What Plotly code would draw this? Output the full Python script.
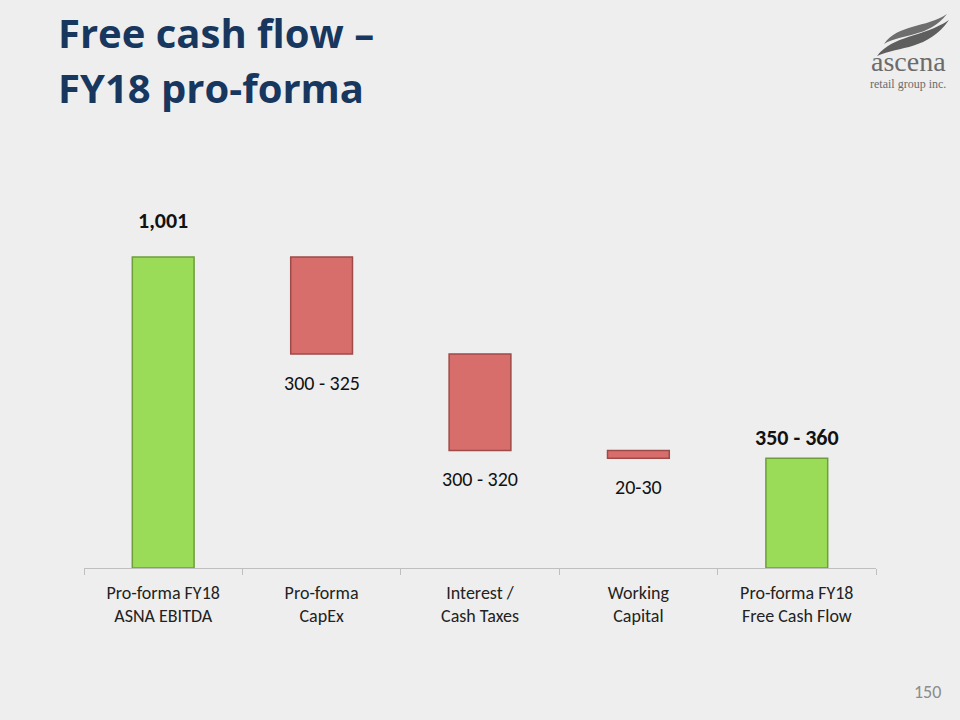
import plotly.graph_objects as go

# ---- data ----
categories = ["Pro-forma FY18<br>ASNA EBITDA", "Pro-forma<br>CapEx", "Interest /<br>Cash Taxes",
              "Working<br>Capital", "Pro-forma FY18<br>Free Cash Flow"]
measures = ["absolute", "relative", "relative", "relative", "total"]
values = [1001, -312.5, -310, -25, 0]
value_labels = ["1,001", "300 - 325", "300 - 320", "20-30", "350 - 360"]
label_bold = [True, False, False, False, True]

FONT = "Carlito, Lato, Liberation Sans, sans-serif"
TITLE_FONT = "Open Sans, Lato, sans-serif"
BG = "#EEEEEE"
GREEN = "#9ADC57"
GREEN_EDGE = "#6E9E3A"
RED = "#D86E6C"
RED_EDGE = "#9E4A48"

W, H = 960, 720
ML, MR, MT, MB = 84, 84, 160, 152
PW, PH = W - ML - MR, H - MT - MB


def px(x):
    return (x - ML) / PW


def py(y):
    return (H - MB - y) / PH


fig = go.Figure()
fig.add_trace(go.Waterfall(
    x=categories, y=values, measure=measures,
    increasing=dict(marker=dict(color=GREEN, line=dict(color=GREEN_EDGE, width=1.5))),
    decreasing=dict(marker=dict(color=RED, line=dict(color=RED_EDGE, width=1.5))),
    totals=dict(marker=dict(color=GREEN, line=dict(color=GREEN_EDGE, width=1.5))),
    connector=dict(visible=False),
    hoverinfo="skip",
))

# running totals for label placement
running = 0
tops, bottoms = [], []
for m, v in zip(measures, values):
    if m == "absolute":
        lo, hi = 0, v
        running = v
    elif m == "relative":
        new = running + v
        lo, hi = min(running, new), max(running, new)
        running = new
    else:
        lo, hi = 0, running
    tops.append(hi)
    bottoms.append(lo)

for i, (cat, lab) in enumerate(zip(categories, value_labels)):
    if label_bold[i]:
        fig.add_annotation(x=cat, y=tops[i], xref="x", yref="y", text="<b>" + lab + "</b>",
                           showarrow=False, yanchor="bottom", yshift=21 if i == 0 else 5,
                           font=dict(family=FONT, size=22, color="#111111"))
    else:
        fig.add_annotation(x=cat, y=bottoms[i], xref="x", yref="y", text=lab,
                           showarrow=False, yanchor="top", yshift=-15,
                           font=dict(family=FONT, size=20, color="#111111"))

# title (two lines)
fig.add_annotation(xref="paper", yref="paper", x=px(56), y=py(32), xanchor="left", yanchor="middle",
                   text="<b>Free cash flow –</b>", showarrow=False,
                   font=dict(family=TITLE_FONT, size=40, color="#17375E"))
fig.add_annotation(xref="paper", yref="paper", x=px(56), y=py(88), xanchor="left", yanchor="middle",
                   text="<b>FY18 pro-forma</b>", showarrow=False,
                   font=dict(family=TITLE_FONT, size=40, color="#17375E"))
# page number
fig.add_annotation(xref="paper", yref="paper", x=px(943), y=py(692), xanchor="right", yanchor="middle",
                   text="150", showarrow=False, font=dict(family=FONT, size=18, color="#8C8C8C"))
# logo text
fig.add_annotation(xref="paper", yref="paper", x=px(908), y=py(62), xanchor="center", yanchor="middle",
                   text="ascena", showarrow=False,
                   font=dict(family="Liberation Serif, DejaVu Serif, serif", size=28, color="#6B6B6B"))
fig.add_annotation(xref="paper", yref="paper", x=px(908), y=py(84), xanchor="center", yanchor="middle",
                   text="retail group inc.", showarrow=False,
                   font=dict(family="Liberation Serif, DejaVu Serif, serif", size=12, color="#6B6B6B"))


def path(points):
    s = "M %.4f,%.4f" % (px(points[0][0]), py(points[0][1]))
    for i in range(1, len(points), 3):
        a, b, c = points[i:i + 3]
        s += " C %.4f,%.4f %.4f,%.4f %.4f,%.4f" % (px(a[0]), py(a[1]), px(b[0]), py(b[1]), px(c[0]), py(c[1]))
    return s + " Z"


swoosh1 = [(877, 56), (893, 35), (922, 38), (949, 20), (928, 50), (900, 46), (877, 56)]
swoosh2 = [(884, 44), (898, 24), (926, 28), (947, 14), (928, 38), (903, 33), (884, 44)]

fig.update_layout(
    width=W, height=H,
    paper_bgcolor=BG, plot_bgcolor=BG,
    margin=dict(l=ML, r=MR, t=MT, b=MB),
    showlegend=False,
    waterfallgap=0.61,
    xaxis=dict(showline=True, linecolor="#BFBFBF", linewidth=1, ticks="outside", tickson="boundaries",
               ticklen=6, tickcolor="#BFBFBF", showgrid=False, ticklabelstandoff=8,
               tickfont=dict(family=FONT, size=18, color="#222222")),
    yaxis=dict(visible=False, range=[0, 1313], showgrid=False, zeroline=False),
    shapes=[
        dict(type="path", xref="paper", yref="paper", path=path(swoosh1),
             fillcolor="#5E5E5E", line=dict(width=0)),
        dict(type="path", xref="paper", yref="paper", path=path(swoosh2),
             fillcolor="#6E6E6E", line=dict(width=0)),
    ],
)

fig.write_html("out.html", config={"displayModeBar": False},
               post_script="document.body.style.margin='0';")
